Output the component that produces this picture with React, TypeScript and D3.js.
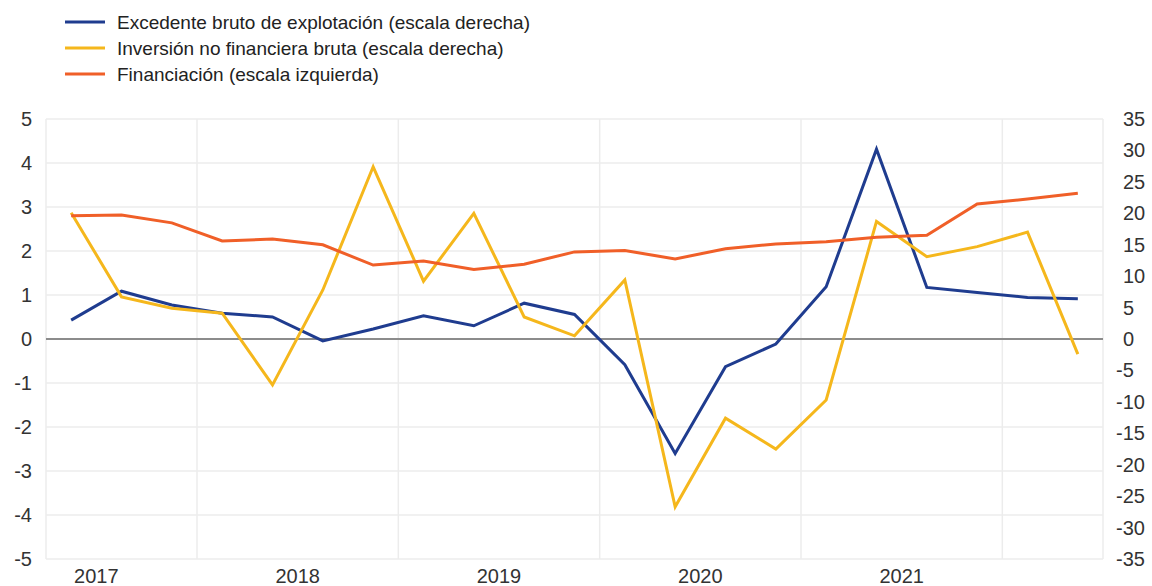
import { useEffect, useRef } from "react";
import * as d3 from "d3";

const WIDTH = 1152;
const HEIGHT = 586;
const PLOT = { left: 46, right: 1103, top: 119, bottom: 559 };

const yearLabels = ["2017", "2018", "2019", "2020", "2021"];

// right scale
const excedente = [3.0, 7.6, 5.4, 4.1, 3.5, -0.3, 1.6, 3.7, 2.1, 5.7, 3.9, -4.1, -18.2, -4.4, -0.8, 8.3, 30.2, 8.2, 7.4, 6.6, 6.4];
const inversion = [20.1, 6.7, 4.9, 4.1, -7.3, 7.8, 27.4, 9.2, 20.0, 3.5, 0.5, 9.4, -26.7, -12.6, -17.5, -9.7, 18.7, 13.1, 14.7, 17.0, -2.4];
// left scale
const financiacion = [2.8, 2.82, 2.64, 2.23, 2.27, 2.14, 1.68, 1.77, 1.58, 1.7, 1.98, 2.01, 1.82, 2.05, 2.16, 2.21, 2.31, 2.36, 3.07, 3.18, 3.31];

const leftTicks = [5, 4, 3, 2, 1, 0, -1, -2, -3, -4, -5];
const rightTicks = [35, 30, 25, 20, 15, 10, 5, 0, -5, -10, -15, -20, -25, -30, -35];

const series = [
  { name: "Excedente bruto de explotación (escala derecha)", values: excedente, axis: "right", color: "#1f3c8f" },
  { name: "Inversión no financiera bruta (escala derecha)", values: inversion, axis: "right", color: "#f5b71c" },
  { name: "Financiación (escala izquierda)", values: financiacion, axis: "left", color: "#f05f28" },
];

const FONT = "'Liberation Sans', Arial, sans-serif";

export default function App() {
  const svgRef = useRef<SVGSVGElement>(null);

  useEffect(() => {
    const svgEl = svgRef.current;
    if (!svgEl) return;
    const svg = d3.select(svgEl);
    svg.selectAll("*").remove();

    const n = financiacion.length;
    const x = d3.scaleLinear().domain([-0.5, n - 0.5]).range([PLOT.left, PLOT.right]);
    const yLeft = d3.scaleLinear().domain([-5, 5]).range([PLOT.bottom, PLOT.top]);
    const yRight = d3.scaleLinear().domain([-35, 35]).range([PLOT.bottom, PLOT.top]);

    // grid
    const grid = svg.append("g");
    grid
      .selectAll("line.h")
      .data(leftTicks)
      .join("line")
      .attr("class", "h")
      .attr("x1", PLOT.left)
      .attr("x2", PLOT.right)
      .attr("y1", (d) => yLeft(d))
      .attr("y2", (d) => yLeft(d))
      .attr("stroke", "#ececec")
      .attr("stroke-width", 1.5);

    const vGrid = [-0.5, ...yearLabels.map((_, i) => 2.5 + i * 4), n - 0.5];
    grid
      .selectAll("line.v")
      .data(vGrid)
      .join("line")
      .attr("class", "v")
      .attr("x1", (d) => x(d))
      .attr("x2", (d) => x(d))
      .attr("y1", PLOT.top)
      .attr("y2", PLOT.bottom)
      .attr("stroke", "#ececec")
      .attr("stroke-width", 1.5);

    // zero line
    svg
      .append("line")
      .attr("x1", PLOT.left)
      .attr("x2", PLOT.right)
      .attr("y1", yLeft(0))
      .attr("y2", yLeft(0))
      .attr("stroke", "#8c8c8c")
      .attr("stroke-width", 2);

    // series
    for (const s of series) {
      const yScale = s.axis === "left" ? yLeft : yRight;
      const line = d3
        .line<number>()
        .x((_, i) => x(i))
        .y((d) => yScale(d));
      svg
        .append("path")
        .datum(s.values)
        .attr("d", line)
        .attr("fill", "none")
        .attr("stroke", s.color)
        .attr("stroke-width", 3)
        .attr("stroke-linejoin", "miter");
    }

    // left axis labels
    svg
      .append("g")
      .selectAll("text")
      .data(leftTicks)
      .join("text")
      .attr("x", 32)
      .attr("y", (d) => yLeft(d))
      .attr("dy", "0.35em")
      .attr("text-anchor", "end")
      .attr("font-family", FONT)
      .attr("font-size", 20)
      .attr("fill", "#333")
      .text((d) => String(d));

    // right axis labels (minus sign hangs left)
    svg
      .append("g")
      .selectAll("text")
      .data(rightTicks)
      .join("text")
      .attr("x", (d) => (d < 0 ? 1116 : 1123))
      .attr("y", (d) => yRight(d))
      .attr("dy", "0.35em")
      .attr("text-anchor", "start")
      .attr("font-family", FONT)
      .attr("font-size", 20)
      .attr("fill", "#333")
      .text((d) => String(d));

    // year labels
    svg
      .append("g")
      .selectAll("text")
      .data(yearLabels)
      .join("text")
      .attr("x", (_, i) => x(0.5 + i * 4))
      .attr("y", 576)
      .attr("dy", "0.35em")
      .attr("text-anchor", "middle")
      .attr("font-family", FONT)
      .attr("font-size", 20)
      .attr("fill", "#333")
      .text((d) => d);

    // legend
    const legend = svg
      .append("g")
      .selectAll("g")
      .data(series)
      .join("g")
      .attr("transform", (_, i) => `translate(0,${22 + i * 26})`);
    legend
      .append("line")
      .attr("x1", 65)
      .attr("x2", 105)
      .attr("stroke", (d) => d.color)
      .attr("stroke-width", 3);
    legend
      .append("text")
      .attr("x", 117)
      .attr("dy", "0.35em")
      .attr("font-family", FONT)
      .attr("font-size", 19)
      .attr("fill", "#222")
      .text((d) => d.name);
  }, []);

  return (
    <div style={{ position: "absolute", left: 0, top: 0, background: "#fff" }}>
      <svg ref={svgRef} width={WIDTH} height={HEIGHT} role="img" aria-label="Excedente, inversión y financiación" />
    </div>
  );
}
